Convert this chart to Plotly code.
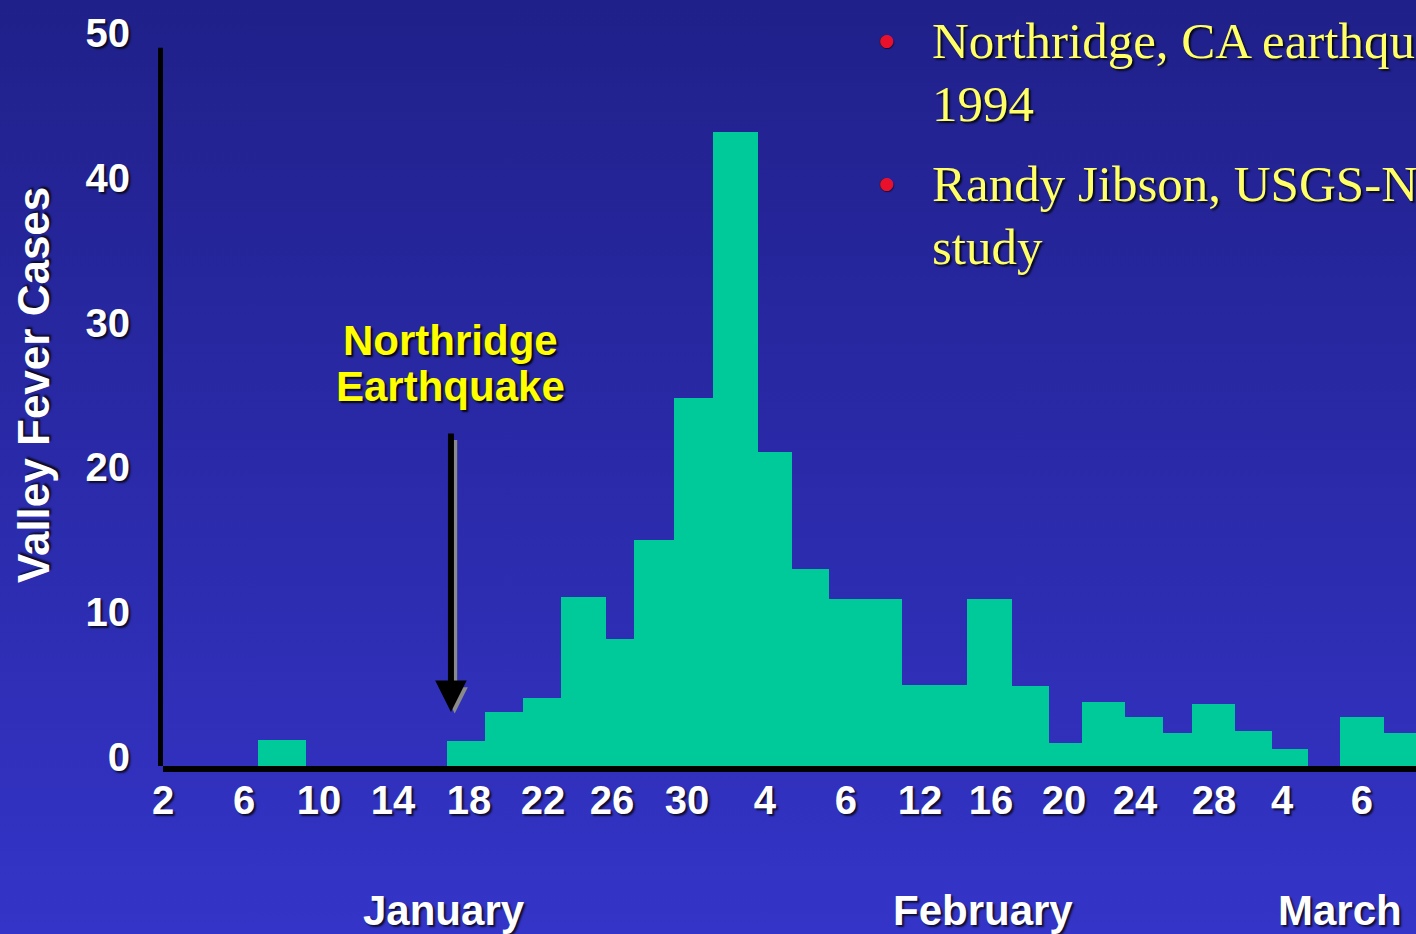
import base64
import plotly.graph_objects as go

# ---------------- data ----------------
# bin edges in "day" units (Jan 1 = 1, continuing through Feb/Mar)
bin_start = [7.06, 17.16, 19.21, 21.22, 23.27, 25.68, 27.16, 29.30, 31.41, 33.82, 35.63, 37.58,
             41.48, 44.96, 47.39, 49.37, 51.10, 53.42, 55.43, 56.98, 59.30, 61.26, 64.91, 67.28]
bin_end = [9.64, 19.21, 21.22, 23.27, 25.68, 27.16, 29.30, 31.41, 33.82, 35.63, 37.58, 41.48,
           44.96, 47.39, 49.37, 51.10, 53.42, 55.43, 56.98, 59.30, 61.26, 63.22, 67.28, 69.30]
cases = [1.8, 1.7, 3.7, 4.7, 11.7, 8.75, 15.6, 25.4, 43.8, 21.7, 13.6, 11.5,
         5.6, 11.5, 5.5, 1.6, 4.4, 3.4, 2.3, 4.3, 2.4, 1.2, 3.4, 2.3]

tick_pos = [2.0, 6.33, 10.34, 14.29, 18.35, 22.31, 26.0, 30.0, 34.17, 38.5, 42.46,
            46.25, 50.16, 53.95, 58.17, 61.81, 66.08]
tick_text = ["2", "6", "10", "14", "18", "22", "26", "30", "4", "6", "12",
             "16", "20", "24", "28", "4", "6"]

months = ["January", "February", "March"]
month_pos = [17.0, 45.8, 64.9]

y_ticks = [0, 10, 20, 30, 40, 50]
y_axis_top = 49.6
quake_day = 17.39
quake_tip_value = 3.73

bullets = ["Northridge, CA earthquake", "1994", "Randy Jibson, USGS-NEIC", "study"]

# ---------------- figure ----------------
W, H = 1416, 934
L, R, T, B = 163, 0, 42, 168
PW, PH = W - L - R, H - T - B


def px_x(px):
    return (px - L) / PW


def px_y(py):
    return (H - B - py) / PH


centers = [(a + b) / 2 for a, b in zip(bin_start, bin_end)]
widths = [b - a for a, b in zip(bin_start, bin_end)]

fig = go.Figure()
fig.add_trace(go.Bar(x=centers, y=cases, width=widths, marker=dict(color="#00C99A", line=dict(width=0)),
                     hoverinfo="y"))

svg = ('<svg xmlns="http://www.w3.org/2000/svg" width="1416" height="934" preserveAspectRatio="none">'
       '<defs><linearGradient id="g" x1="0" y1="0" x2="0" y2="1">'
       '<stop offset="0" stop-color="#20208A"/><stop offset="1" stop-color="#3434C8"/>'
       '</linearGradient></defs><rect width="1416" height="934" fill="url(#g)"/></svg>')
src = "data:image/svg+xml;base64," + base64.b64encode(svg.encode()).decode()

shadow = "2px 2px 2px rgba(0,0,0,0.75)"
tickfont = dict(family="Liberation Sans", size=40, color="white", weight="bold", shadow=shadow)

annotations = []
# month labels
for m, p in zip(months, month_pos):
    annotations.append(dict(x=p, xref="x", y=px_y(910), yref="paper", text=m, showarrow=False,
                            xanchor="center", yanchor="middle",
                            font=dict(family="Liberation Sans", size=42, color="white", weight="bold",
                                      shadow=shadow)))
# y axis title
annotations.append(dict(x=px_x(33), y=px_y(385), xref="paper", yref="paper", text="Valley Fever Cases",
                        textangle=-90, showarrow=False, xanchor="center", yanchor="middle",
                        font=dict(family="Liberation Sans", size=44, color="white", weight="bold",
                                  shadow=shadow)))
# quake label
for txt, py in [("Northridge", 340), ("Earthquake", 386)]:
    annotations.append(dict(x=quake_day, xref="x", y=px_y(py), yref="paper", text=txt, showarrow=False,
                            xanchor="center", yanchor="middle",
                            font=dict(family="Liberation Sans", size=42, color="#FFFF00", weight="bold",
                                      shadow="2px 2px 2px rgba(0,0,0,0.9)")))
# arrow shadow + arrow
annotations.append(dict(x=quake_day + 0.2, y=quake_tip_value - 0.1, xref="x", yref="y", text="",
                        showarrow=True, ax=0, ay=-275, arrowcolor="#8a8a8a", arrowwidth=5,
                        arrowhead=2, arrowsize=1.05, standoff=0))
annotations.append(dict(x=quake_day, y=quake_tip_value, xref="x", yref="y", text="",
                        showarrow=True, ax=0, ay=-280, arrowcolor="black", arrowwidth=6,
                        arrowhead=2, arrowsize=1.05, standoff=0))
# bullet texts
for txt, py in zip(bullets, [41, 104, 184, 247]):
    annotations.append(dict(x=px_x(930), y=px_y(py), xref="paper", yref="paper", text=txt,
                            showarrow=False, xanchor="left", yanchor="middle",
                            font=dict(family="Liberation Serif", size=51, color="#FFFF66",
                                      shadow="2px 2px 2px rgba(0,0,0,0.8)")))
for py in [40, 183]:
    annotations.append(dict(x=px_x(886), y=px_y(py), xref="paper", yref="paper", text="●",
                            showarrow=False, xanchor="center", yanchor="middle",
                            font=dict(family="DejaVu Sans", size=17, color="#E8102A",
                                      shadow="1px 1px 1px rgba(0,0,0,0.6)")))

# y axis line (stops a little below the 50 label, as in the original)
shapes = [dict(type="line", xref="paper", xsizemode="pixel", xanchor=0, x0=-2.5, x1=-2.5,
               yref="y", y0=-0.45, y1=y_axis_top, line=dict(color="black", width=5), layer="above")]

fig.update_layout(
    width=W, height=H,
    margin=dict(l=L, r=R, t=T, b=B, pad=0),
    paper_bgcolor="#2A2AA8",
    plot_bgcolor="rgba(0,0,0,0)",
    showlegend=False,
    bargap=0,
    images=[dict(source=src, xref="paper", yref="paper", x=-L / PW, y=1 + T / PH,
                 sizex=W / PW, sizey=H / PH, sizing="stretch", layer="below",
                 xanchor="left", yanchor="top")],
    annotations=annotations,
    shapes=shapes,
    xaxis=dict(range=[2, 2 + PW / 18.71], tickmode="array", tickvals=tick_pos, ticktext=tick_text,
               showline=True, linecolor="black", linewidth=6, showgrid=False, zeroline=False,
               ticks="", tickfont=tickfont, ticklabelstandoff=-6, fixedrange=True),
    yaxis=dict(range=[0, 50], tickmode="array", tickvals=y_ticks, showline=False,
               showgrid=False, zeroline=False, ticks="", tickfont=tickfont,
               ticklabelshift=-9, ticklabelstandoff=32, fixedrange=True),
)

fig.write_html("out.html", config={"displayModeBar": False},
               post_script="document.body.style.margin='0';document.body.style.overflow='hidden';")
